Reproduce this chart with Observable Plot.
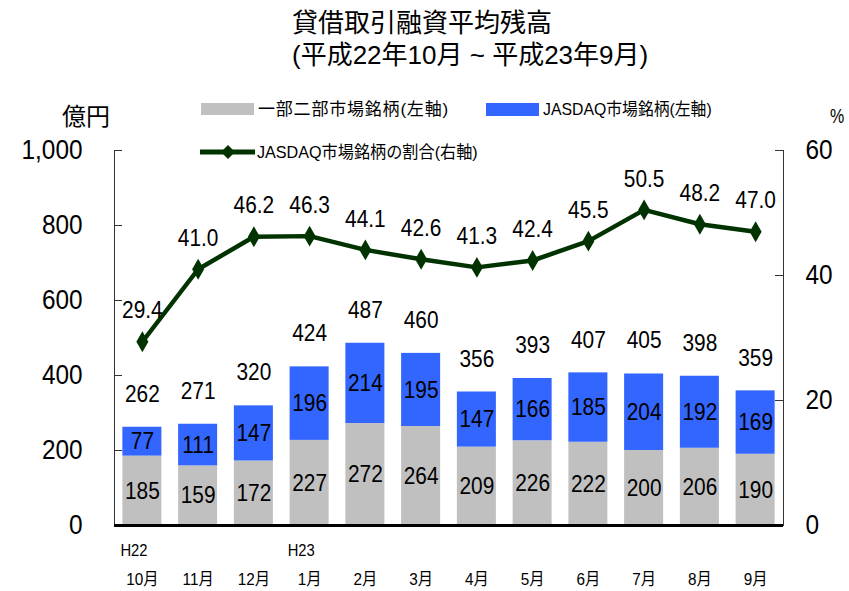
<!DOCTYPE html>
<html>
<head>
<meta charset="utf-8">
<script src="https://cdn.jsdelivr.net/npm/d3@7"></script>
<script src="https://cdn.jsdelivr.net/npm/@observablehq/plot@0.6"></script>
<style>
  body { margin: 0; background: #fff; }
  #wrap { position: relative; width: 849px; height: 591px; overflow: hidden; }
  #wrap svg.plot { position: absolute; left: 0; top: 0; }
  .t { position: absolute; white-space: nowrap; color: #000; transform-origin: 0 50%;
       font-family: "Liberation Sans", "Noto Sans CJK JP", sans-serif; }
  .sw { position: absolute; }
</style>
</head>
<body>
<div id="wrap">
  <div class="t" style="left:292px;top:10px;font-size:26px;line-height:26px;">貸借取引融資平均残高</div>
  <div class="t" style="left:292px;top:42px;font-size:26px;line-height:26px;">(平成22年10月 ~ 平成23年9月)</div>
  <div class="t" style="left:62px;top:105px;font-size:24px;line-height:24px;">億円</div>
  <div class="t" style="left:830px;top:106px;font-size:20px;line-height:20px;transform:scaleX(0.8);">%</div>
  <div class="sw" style="left:201px;top:103px;width:53px;height:12px;background:#c0c0c0;"></div>
  <div class="t" style="left:258px;top:101px;font-size:17px;line-height:17px;letter-spacing:0.8px;">一部二部市場銘柄(左軸)</div>
  <div class="sw" style="left:486px;top:103px;width:53px;height:13px;background:#3366ff;"></div>
  <div class="t" style="left:543px;top:101px;font-size:17px;line-height:17px;transform:scaleX(0.93);">JASDAQ市場銘柄(左軸)</div>
  <svg class="sw" style="left:198px;top:142px;" width="60" height="20">
    <line x1="2" y1="10" x2="57" y2="10" stroke="#003300" stroke-width="5"></line>
    <path d="M30,3 L37,10 L30,17 L23,10 Z" fill="#003300"></path>
  </svg>
  <div class="t" style="left:257px;top:144px;font-size:17px;line-height:17px;transform:scaleX(0.95);">JASDAQ市場銘柄の割合(右軸)</div>
</div>
<script>
const months = ["10月","11月","12月","1月","2月","3月","4月","5月","6月","7月","8月","9月"];
const eraMonths = ["10月","1月"];
const eraLabels = ["H22","H23"];
const seriesNames = ["一部二部市場銘柄","JASDAQ市場銘柄"];
const seriesColors = ["#c0c0c0","#3366ff"];
const mainBoard = [185,159,172,227,272,264,209,226,222,200,206,190];
const jasdaq    = [77,111,147,196,214,195,147,166,185,204,192,169];
const totals    = [262,271,320,424,487,460,356,393,407,405,398,359];
const ratio     = [29.4,41.0,46.2,46.3,44.1,42.6,41.3,42.4,45.5,50.5,48.2,47.0];
const leftTicks = [0,200,400,600,800,1000];
const rightTicks = [0,20,40,60];
const leftMax = 1000, rightMax = 60;
const k = leftMax / rightMax; // maps right-axis percent onto the left scale

const rows = months.flatMap((m, i) => [
  {month: m, series: seriesNames[0], value: mainBoard[i]},
  {month: m, series: seriesNames[1], value: jasdaq[i]}
]);
const rRows = months.map((m, i) => ({month: m, ratio: ratio[i], y: ratio[i] * k}));
const tRows = months.map((m, i) => ({month: m, total: totals[i]}));
const eRows = eraMonths.map((m, i) => ({month: m, label: eraLabels[i]}));

const W = 849, H = 591, ML = 114, MR = 66, MT = 150, MB = 66;
const innerW = W - ML - MR;
const lineColor = "#003300";

const chart = Plot.plot({
  width: W, height: H,
  marginLeft: ML, marginRight: MR, marginTop: MT, marginBottom: MB,
  style: {fontFamily: "'Liberation Sans','Noto Sans CJK JP',sans-serif", fontSize: "16px", color: "#000", background: "transparent"},
  x: {type: "band", domain: months, paddingInner: 0.3, paddingOuter: 0.15, round: false, axis: null},
  y: {domain: [0, leftMax], axis: null},
  color: {domain: seriesNames, range: seriesColors},
  marks: [
    Plot.barY(rows, {x: "month", y: "value", fill: "series"}),
    Plot.text(rows, Plot.stackY({x: "month", y: "value", text: "value", fontSize: 24, fill: "#000"})),
    Plot.text(tRows, {x: "month", y: "total", text: d => String(d.total), dy: -33, fontSize: 24, fill: "#000"}),
    Plot.line(rRows, {x: "month", y: "y", stroke: lineColor, strokeWidth: 4.5}),
    Plot.dot(rRows, {x: "month", y: "y", symbol: "diamond", r: 6.3, fill: lineColor, stroke: "none"}),
    Plot.text(rRows, {x: "month", y: "y", text: d => d.ratio.toFixed(1), dy: -31, fontSize: 24, fill: "#000"}),
    Plot.axisY({anchor: "left", ticks: leftTicks, tickSize: 0, tickPadding: 32, tickFormat: d3.format(","), fontSize: 28, label: null}),
    Plot.axisY({anchor: "right", ticks: rightTicks.map(v => v * k), tickSize: 0, tickPadding: 22, tickFormat: v => String(Math.round(v / k)), fontSize: 28, label: null}),
    Plot.ruleY(leftTicks, {insetRight: innerW - 8, stroke: "#333"}),
    Plot.ruleY(rightTicks.map(v => v * k), {insetLeft: innerW - 8, stroke: "#333"}),
    Plot.frame({anchor: "left", stroke: "#333"}),
    Plot.frame({anchor: "right", stroke: "#333"}),
    Plot.ruleY([0], {stroke: "#000", strokeWidth: 3}),
    Plot.axisX({tickSize: 0, tickPadding: 47, fontSize: 17, label: null}),
    Plot.text(eRows, {x: "month", text: "label", frameAnchor: "bottom", dy: 30, dx: -22, textAnchor: "start", fontSize: 17, fill: "#000"})
  ]
});
chart.classList.add("plot");
document.getElementById("wrap").prepend(chart);

// condense the glyphs like the narrow face of the reference
chart.querySelectorAll("text").forEach(t => {
  const len = t.getComputedTextLength();
  if (!len) return;
  const f = /[\u3000-\u9fff]/.test(t.textContent) ? 0.9 : 0.87;
  t.setAttribute("textLength", (len * f).toFixed(1));
  t.setAttribute("lengthAdjust", "spacingAndGlyphs");
});
</script>
</body>
</html>
